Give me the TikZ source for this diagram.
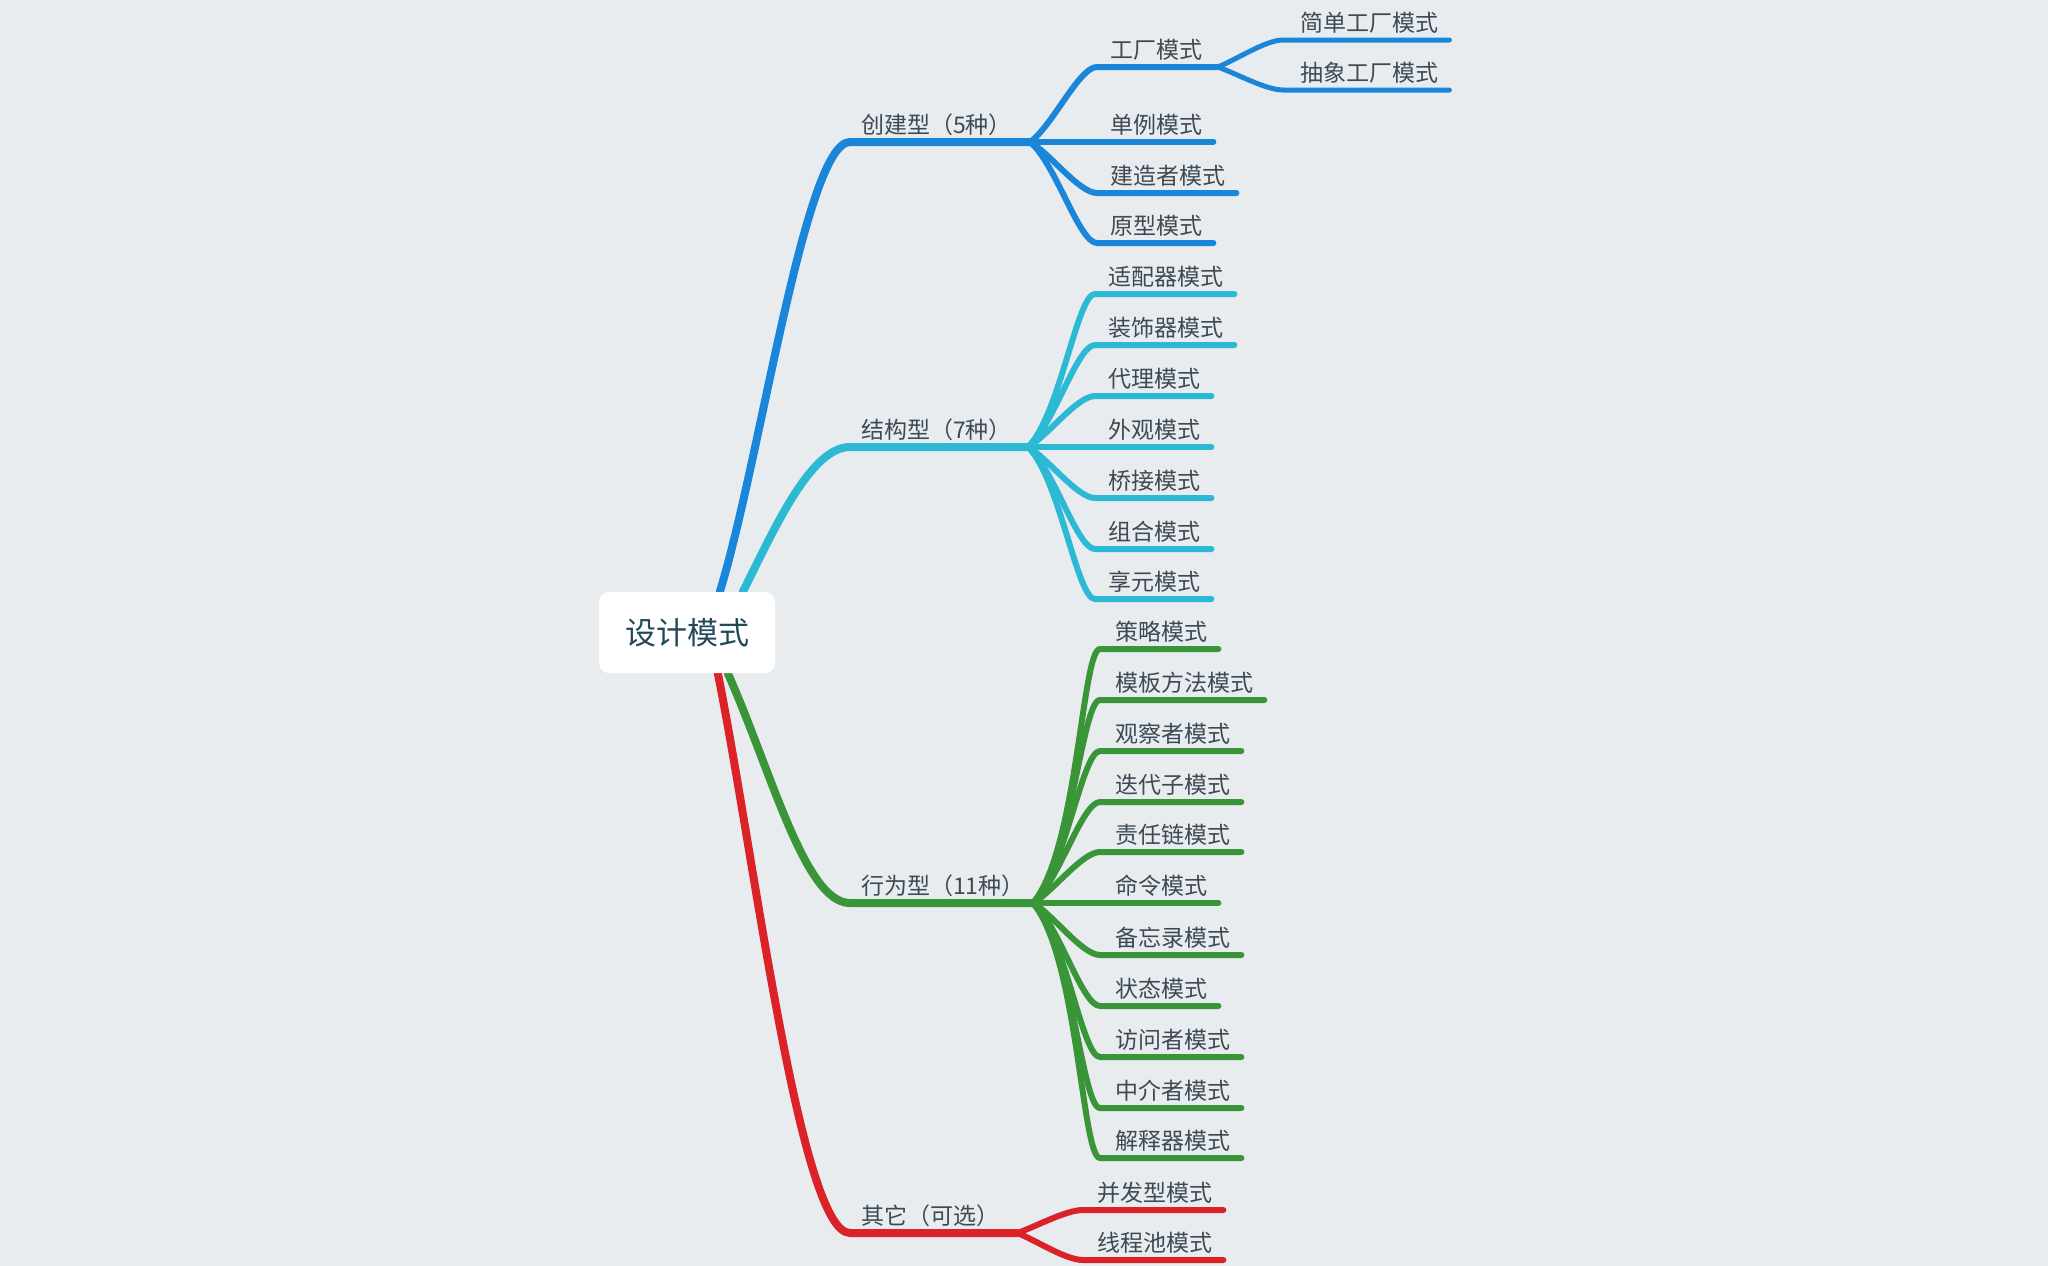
\documentclass[tikz,border=0pt]{standalone}
\usepackage{fontspec}
\setmainfont{Noto Sans CJK SC}
\usetikzlibrary{calc}
\definecolor{bgc}{HTML}{E8ECEF}
\definecolor{cBlue}{HTML}{1A86DA}
\definecolor{cCyan}{HTML}{2CB9D3}
\definecolor{cGreen}{HTML}{3A9538}
\definecolor{cRed}{HTML}{DB2229}
\definecolor{txt}{HTML}{3D4A55}
\definecolor{roottxt}{HTML}{22495A}
\pgfdeclarelayer{back}
\pgfsetlayers{back,main}
\tikzset{
  fan/.style={to path={let \p1=(\tikztostart), \p2=(\tikztotarget), \n1={abs(\y2-\y1)} in
     .. controls ({\x1+13pt+0.125*\n1},{\y1+0.21*(\y2-\y1)}) and ({\x2-18pt},\y2) .. (\tikztotarget)}},
  l1/.style={line width=8pt, line cap=round, line join=round},
  l2/.style={line width=6pt, line cap=round, line join=round},
  l3/.style={line width=5pt, line cap=round, line join=round},
  lab/.style={anchor=base west, inner sep=0pt, text=txt, font=\fontsize{23}{23}\selectfont},
  rootbox/.style={fill=white, rounded corners=10pt, minimum width=176pt, minimum height=81pt,
     inner sep=0pt, text=roottxt, font=\fontsize{31}{31}\selectfont}
}
% #1 id, #2 line style, #3 junction, #4 x of line start, #5 x of text, #6 y of line, #7 text
\newcommand\leaf[7]{%
  \node[lab] (#1) at (#5,#6-9) {#7};
  \coordinate (#1s) at (#4,#6);
  \coordinate (#1e) at ($(#1.base east)+(11,9)$);
  \draw[#2] (#3) to[fan] (#1s) -- (#1e);
}
\begin{document}
\begin{tikzpicture}[x=1pt,y=-1pt]
\useasboundingbox (0,0) rectangle (2048,1266);
\node[rootbox] (root) at (687,632.5) {设计模式};
\coordinate (rB) at ($(root.north west)+(121,0)$);
\coordinate (rC) at ($(root.north west)+(144,0)$);
\coordinate (rG) at ($(root.south west)+(129,0)$);
\coordinate (rR) at ($(root.south west)+(119,0)$);
% level 1
\node[lab] (c1) at (861,142-9) {创建型（5种）};
\node[lab] (c2) at (861,447-9) {结构型（7种）};
\node[lab] (c3) at (861,903-9) {行为型（11种）};
\node[lab] (c4) at (861,1233-9) {其它（可选）};
\coordinate (c1k) at (850,142);  \coordinate (c1j) at (1030,142);
\coordinate (c2k) at (850,447);  \coordinate (c2j) at (1028,447);
\coordinate (c3k) at (850,903);  \coordinate (c3j) at (1033,903);
\coordinate (c4k) at (850,1233); \coordinate (c4j) at (1017,1233);
\begin{pgfonlayer}{back}
\fill[bgc] (0,0) rectangle (2048,1266);
\draw[l1,cBlue]  (rB) .. controls (760,462) and (805,142) .. (c1k) -- (c1j);
\draw[l1,cCyan]  (rC) .. controls (773,532) and (810,447) .. (c2k) -- (c2j);
\draw[l1,cGreen] (rG) .. controls (772,773) and (805,903) .. (c3k) -- (c3j);
\draw[l1,cRed]   (rR) .. controls (754,853) and (800,1233) .. (c4k) -- (c4j);
\end{pgfonlayer}
% creational
\node[lab] (f1) at (1110,67-9) {工厂模式};
\coordinate (f1s) at (1097,67);
\coordinate (f1e) at ($(f1.base east)+(15,9)$);
\draw[l2,cBlue] (c1j) to[fan] (f1s) -- (f1e);
\leaf{f11}{l3,cBlue}{f1e}{1283}{1300}{40}{简单工厂模式}
\leaf{f12}{l3,cBlue}{f1e}{1283}{1300}{90}{抽象工厂模式}
\leaf{a2}{l2,cBlue}{c1j}{1097}{1110}{142}{单例模式}
\leaf{a3}{l2,cBlue}{c1j}{1097}{1110}{193}{建造者模式}
\leaf{a4}{l2,cBlue}{c1j}{1097}{1110}{243}{原型模式}
% structural
\leaf{s1}{l2,cCyan}{c2j}{1095}{1108}{294}{适配器模式}
\leaf{s2}{l2,cCyan}{c2j}{1095}{1108}{345}{装饰器模式}
\leaf{s3}{l2,cCyan}{c2j}{1095}{1108}{396}{代理模式}
\leaf{s4}{l2,cCyan}{c2j}{1095}{1108}{447}{外观模式}
\leaf{s5}{l2,cCyan}{c2j}{1095}{1108}{498}{桥接模式}
\leaf{s6}{l2,cCyan}{c2j}{1095}{1108}{549}{组合模式}
\leaf{s7}{l2,cCyan}{c2j}{1095}{1108}{599}{享元模式}
% behavioural
\leaf{h1}{l2,cGreen}{c3j}{1100}{1115}{649}{策略模式}
\leaf{h2}{l2,cGreen}{c3j}{1100}{1115}{700}{模板方法模式}
\leaf{h3}{l2,cGreen}{c3j}{1100}{1115}{751}{观察者模式}
\leaf{h4}{l2,cGreen}{c3j}{1100}{1115}{802}{迭代子模式}
\leaf{h5}{l2,cGreen}{c3j}{1100}{1115}{852}{责任链模式}
\leaf{h6}{l2,cGreen}{c3j}{1100}{1115}{903}{命令模式}
\leaf{h7}{l2,cGreen}{c3j}{1100}{1115}{955}{备忘录模式}
\leaf{h8}{l2,cGreen}{c3j}{1100}{1115}{1006}{状态模式}
\leaf{h9}{l2,cGreen}{c3j}{1100}{1115}{1057}{访问者模式}
\leaf{h10}{l2,cGreen}{c3j}{1100}{1115}{1108}{中介者模式}
\leaf{h11}{l2,cGreen}{c3j}{1100}{1115}{1158}{解释器模式}
% other
\leaf{o1}{l2,cRed}{c4j}{1083}{1097}{1210}{并发型模式}
\leaf{o2}{l2,cRed}{c4j}{1083}{1097}{1260}{线程池模式}
\end{tikzpicture}
\end{document}
